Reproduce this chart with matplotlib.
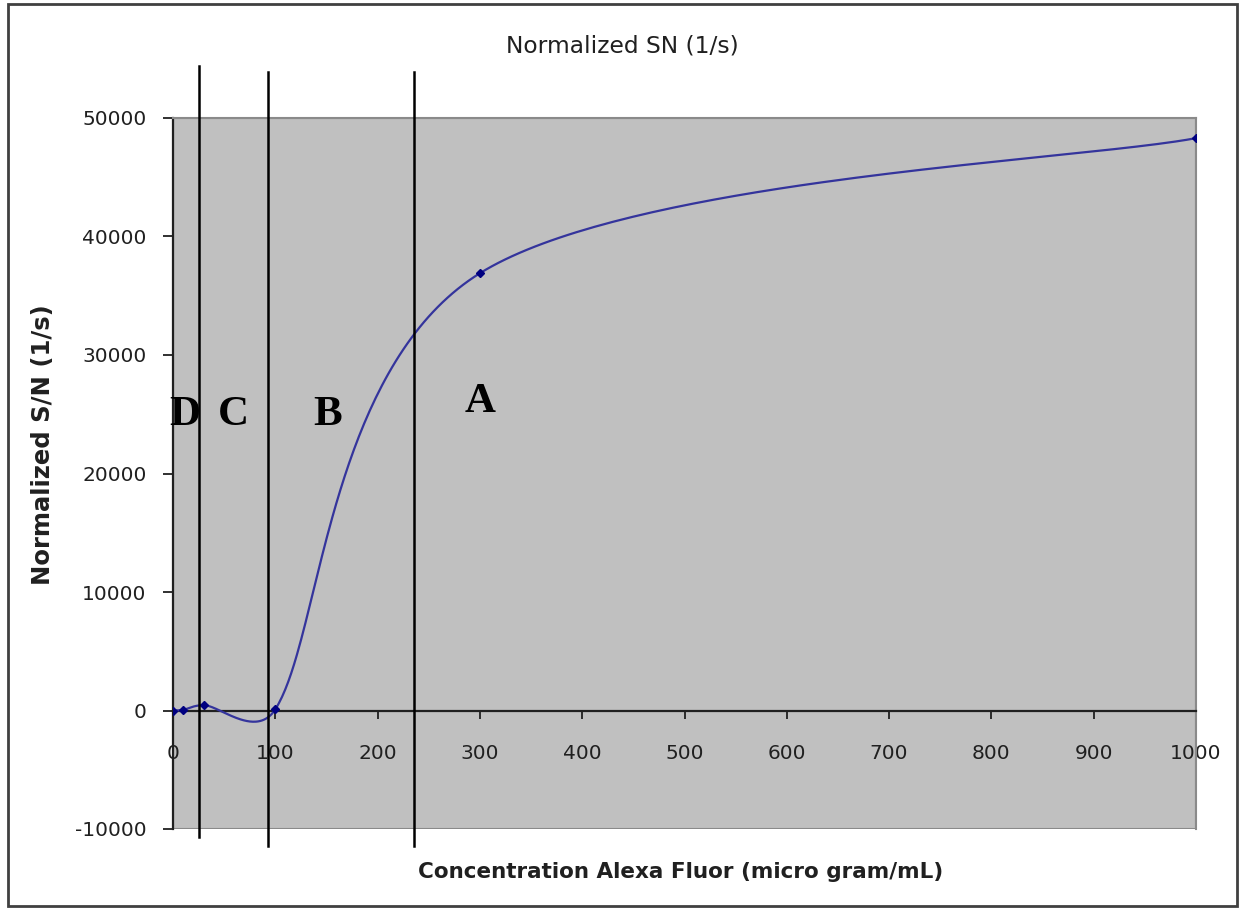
import numpy as np
import matplotlib
matplotlib.use("Agg")
import matplotlib.pyplot as plt
from matplotlib.patches import Rectangle

# Measured signal-to-noise, normalized per second
concentration = [0, 10, 30, 100, 300, 1000]
sn_values = [0, 60, 450, 100, 36900, 48300]

# Region boundaries (concentration) and region labels
boundaries = [25, 93, 236]
boundary_tops = [54400, 53900, 53900]
boundary_bottoms = [-10700, -11400, -11400]
region_labels = ["D", "C", "B", "A"]
region_label_x = [11.5, 59.5, 151.5, 300]
region_label_y = [24100, 24100, 24100, 25150]

x_ticks = [0, 100, 200, 300, 400, 500, 600, 700, 800, 900, 1000]
y_ticks = [-10000, 0, 10000, 20000, 30000, 40000, 50000]

plt.rcParams["font.family"] = ["DejaVu Sans"]

fig = plt.figure(figsize=(12.46, 9.09), dpi=100)
ax = fig.add_axes([173 / 1246, 1 - 829 / 909, (1196 - 173) / 1246, (829 - 118) / 909])
ax.set_xlim(0, 1000)
ax.set_ylim(-10000, 50000)
ax.set_facecolor("#c0c0c0")

# outer chart border
fig.patches.append(Rectangle((8 / 1246, 1 - 906 / 909), 1229 / 1246, 902 / 909,
                             transform=fig.transFigure, fill=False,
                             edgecolor="#404040", linewidth=2))


def smooth_curve(xs, ys, n=80):
    """Bezier smoothing through every point, computed in display space."""
    pts = ax.transData.transform(np.column_stack([xs, ys]))
    ext = np.vstack([pts[0], pts, pts[-1]])
    out = []
    for i in range(len(pts) - 1):
        p0, p1, p2, p3 = ext[i], ext[i + 1], ext[i + 2], ext[i + 3]
        d12 = np.hypot(*(p2 - p1))
        t1 = (p2 - p0) / 6.0
        t2 = (p3 - p1) / 6.0
        for t in (t1, t2):
            ln = np.hypot(*t)
            if ln > d12 / 2 and ln > 0:
                t *= (d12 / 2) / ln
        c1 = p1 + t1
        c2 = p2 - t2
        s = np.linspace(0, 1, n)[:, None]
        seg = ((1 - s) ** 3 * p1 + 3 * (1 - s) ** 2 * s * c1
               + 3 * (1 - s) * s ** 2 * c2 + s ** 3 * p2)
        out.append(seg if i == 0 else seg[1:])
    curve = np.vstack(out)
    return ax.transData.inverted().transform(curve)


curve = smooth_curve(concentration, sn_values)
ax.plot(curve[:, 0], curve[:, 1], color="#34349c", linewidth=1.6, zorder=4)
ax.plot(concentration, sn_values, linestyle="none", marker="D", markersize=4,
        color="#000080", zorder=5)

# spines: left axis and zero line dark, plot-area border grey
ax.spines["left"].set_color("#202020")
ax.spines["left"].set_linewidth(1.6)
ax.spines["bottom"].set_position(("data", 0))
ax.spines["bottom"].set_color("#202020")
ax.spines["bottom"].set_linewidth(1.6)
for side in ("top", "right"):
    ax.spines[side].set_color("#8a8a8a")
    ax.spines[side].set_linewidth(1.5)
ax.add_patch(Rectangle((0, 0), 1, 1, transform=ax.transAxes, fill=False,
                       edgecolor="#8a8a8a", linewidth=1.5, zorder=1))

ax.set_xticks(x_ticks)
ax.set_yticks(y_ticks)
ax.set_xticklabels([str(v) for v in x_ticks])
ax.set_yticklabels([str(v) for v in y_ticks])
ax.tick_params(axis="x", direction="out", length=6, width=1.3, pad=18,
               labelsize=14.5, colors="#202020")
ax.tick_params(axis="y", direction="out", length=7, width=1.3, pad=12,
               labelsize=14.5, colors="#202020")

# region boundaries extend beyond the plot area
for bx, top, bot in zip(boundaries, boundary_tops, boundary_bottoms):
    ax.plot([bx, bx], [bot, top], color="black", linewidth=1.8, clip_on=False, zorder=6)

for lbl, lx, ly in zip(region_labels, region_label_x, region_label_y):
    ax.text(lx, ly, lbl, ha="center", va="baseline", fontsize=31,
            fontweight="bold", family="Liberation Serif", color="black", zorder=7)

fig.text(622 / 1246, 1 - 46 / 909, "Normalized SN (1/s)", ha="center", va="center",
         fontsize=16.8, color="#202020")
fig.text(681 / 1246, 1 - 872 / 909, "Concentration Alexa Fluor (micro gram/mL)",
         ha="center", va="center", fontsize=15.5, fontweight="bold", color="#202020")
fig.text(43 / 1246, 1 - 445 / 909, "Normalized S/N (1/s)", ha="center", va="center",
         rotation=90, fontsize=17.5, fontweight="bold", color="#202020")

fig.savefig("out.png", dpi=100)
